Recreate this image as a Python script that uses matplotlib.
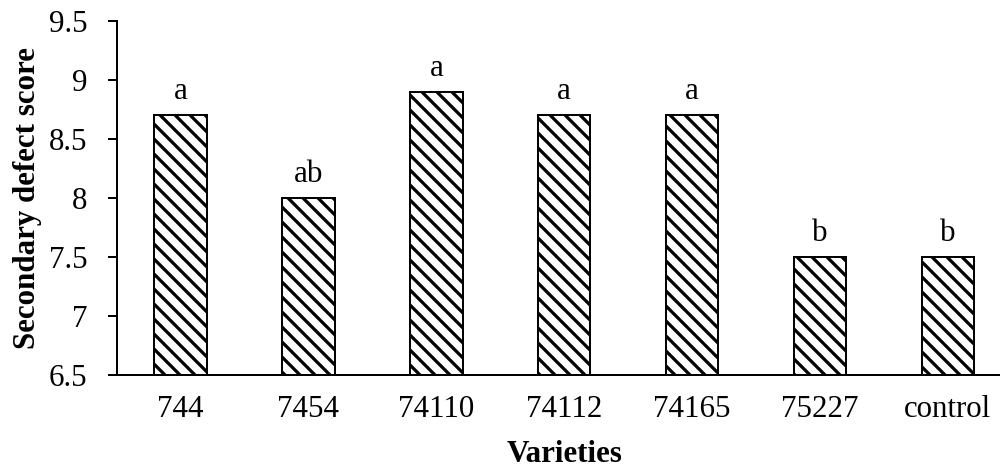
import matplotlib
matplotlib.use("Agg")
import matplotlib.pyplot as plt

#values
varieties = ["744", "7454", "74110", "74112", "74165", "75227", "control"]
scores = [8.7, 8.0, 8.9, 8.7, 8.7, 7.5, 7.5]
letters = ["a", "ab", "a", "a", "a", "b", "b"]
yticks = [6.5, 7, 7.5, 8, 8.5, 9, 9.5]

dpi = 90
plt.rcParams["font.family"] = ["Liberation Serif", "DejaVu Serif"]
plt.rcParams["font.size"] = 24.8
plt.rcParams["hatch.linewidth"] = 2.6
plt.rcParams["hatch.color"] = "black"

fig = plt.figure(figsize=(1000 / dpi, 472 / dpi), dpi=dpi)
ax = fig.add_axes([0.1167, 0.2055, 0.895, 0.7506])

x = list(range(len(varieties)))
bars = ax.bar(x, scores, width=0.41, color="white", edgecolor="black",
              linewidth=1.6, hatch="\\\\", zorder=2)

for xi, s, lab in zip(x, scores, letters):
    ax.annotate(lab, (xi, s), xytext=(0, 12.8), textcoords="offset points",
                ha="center", va="baseline")

ax.set_xlim(-0.5, len(varieties) - 0.5)
ax.set_ylim(6.5, 9.5)
ax.set_yticks(yticks)
ax.set_yticklabels([("%g" % t) for t in yticks])
ax.set_xticks(x)
ax.set_xticklabels(varieties)

ax.spines["top"].set_visible(False)
ax.spines["right"].set_visible(False)
ax.spines["left"].set_linewidth(1.6)
ax.spines["bottom"].set_linewidth(1.6)
ax.tick_params(axis="y", direction="out", length=7.2, width=1.6, pad=16)
ax.tick_params(axis="x", length=0, pad=16)

ax.set_ylabel("Secondary defect score", fontweight="bold", va="center")
ax.yaxis.set_label_coords(-0.1, 0.5)
ax.set_xlabel("Varieties", fontweight="bold", va="baseline")
ax.xaxis.set_label_coords(0.5, -0.2456)

fig.savefig("out.png", dpi=dpi)
